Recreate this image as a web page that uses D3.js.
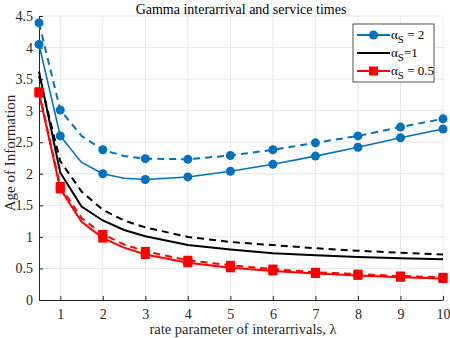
<!DOCTYPE html>
<html lang="en">
<head>
<meta charset="UTF-8">
<title>Gamma interarrival and service times</title>
<style>
  body { margin: 0; background: #fff; }
  svg { font-family: "Liberation Serif", "Times New Roman", serif; }
  .grid line { stroke: #e6e6e6; stroke-width: 1; }
  .axis path, .axis line { stroke: #262626; }
  .axis text { fill: #262626; }
</style>
</head>
<body>
<script src="https://d3js.org/d3.v7.min.js"></script>
<svg id="svg"></svg>
<script>
// x values (rate parameter lambda)
var lambdas = [0.5, 1, 1.5, 2, 2.5, 3, 4, 5, 6, 7, 8, 9, 10];
var markerX = [0.5, 1, 2, 3, 4, 5, 6, 7, 8, 9, 10];

var blueSolid  = [4.05, 2.60, 2.18, 2.00, 1.93, 1.91, 1.95, 2.04, 2.15, 2.28, 2.42, 2.57, 2.71];
var blueDashed = [4.39, 3.01, 2.60, 2.38, 2.28, 2.24, 2.23, 2.29, 2.38, 2.49, 2.60, 2.74, 2.87];
var blackSolid = [3.62, 2.02, 1.48, 1.26, 1.11, 1.01, 0.87, 0.80, 0.74, 0.71, 0.68, 0.66, 0.645];
var blackDashed= [3.55, 2.20, 1.72, 1.43, 1.26, 1.15, 1.00, 0.92, 0.87, 0.82, 0.78, 0.75, 0.72];
var redSolid   = [3.28, 1.76, 1.24, 0.98, 0.83, 0.72, 0.59, 0.51, 0.46, 0.42, 0.39, 0.36, 0.34];
var redDashed  = [3.30, 1.80, 1.30, 1.04, 0.88, 0.77, 0.63, 0.55, 0.49, 0.44, 0.41, 0.38, 0.36];

var xTicks = [1, 2, 3, 4, 5, 6, 7, 8, 9, 10];
var yTicks = [0, 0.5, 1, 1.5, 2, 2.5, 3, 3.5, 4, 4.5];

var W = 450, H = 338;
var m = { left: 39, right: 7, top: 16, bottom: 38 };
var serif = "'Liberation Serif', 'Times New Roman', serif";

var svg = d3.select("#svg").attr("width", W).attr("height", H);

var x = d3.scaleLinear().domain([0.5, 10]).range([m.left, W - m.right]);
var y = d3.scaleLinear().domain([0, 4.5]).range([H - m.bottom, m.top]);

// grid
var grid = svg.append("g").attr("class", "grid");
grid.selectAll(".gx").data(xTicks).enter().append("line")
  .attr("x1", d => x(d)).attr("x2", d => x(d))
  .attr("y1", y(0)).attr("y2", y(4.5));
grid.selectAll(".gy").data(yTicks).enter().append("line")
  .attr("x1", x(0.5)).attr("x2", x(10))
  .attr("y1", d => y(d)).attr("y2", d => y(d));

// axes
svg.append("g").attr("class", "axis")
  .attr("transform", "translate(0," + y(0) + ")")
  .call(d3.axisBottom(x).tickValues(xTicks).tickSize(-4).tickSizeOuter(0).tickPadding(9))
  .attr("font-family", serif).attr("font-size", 14);
svg.append("g").attr("class", "axis")
  .attr("transform", "translate(" + x(0.5) + ",0)")
  .call(d3.axisLeft(y).tickValues(yTicks).tickSize(-4).tickSizeOuter(0).tickPadding(6)
        .tickFormat(d => String(d)))
  .attr("font-family", serif).attr("font-size", 14);

function series(vals) {
  return lambdas.map((l, i) => ({ x: l, y: vals[i] }));
}
function markers(vals) {
  return series(vals).filter(p => markerX.indexOf(p.x) >= 0);
}

var line = d3.line().x(d => x(d.x)).y(d => y(d.y));

var curves = [
  { v: blackDashed, c: "#000", w: 2, dash: "7,5", mk: null },
  { v: blackSolid, c: "#000", w: 2, dash: null, mk: null },
  { v: redDashed, c: "#ff0000", w: 2, dash: "7,5", mk: "square" },
  { v: redSolid, c: "#ff0000", w: 2, dash: null, mk: "square" },
  { v: blueDashed, c: "#0072bd", w: 2, dash: "7,5", mk: "circle" },
  { v: blueSolid, c: "#0072bd", w: 1.6, dash: null, mk: "circle" }
];

var plot = svg.append("g");
curves.forEach(function (s) {
  plot.append("path")
    .datum(series(s.v))
    .attr("d", line)
    .attr("fill", "none")
    .attr("stroke", s.c)
    .attr("stroke-width", s.w)
    .attr("stroke-dasharray", s.dash);
  if (s.mk === "circle") {
    plot.selectAll(null).data(markers(s.v)).enter().append("circle")
      .attr("cx", d => x(d.x)).attr("cy", d => y(d.y)).attr("r", 4.5)
      .attr("fill", s.c);
  } else if (s.mk === "square") {
    plot.selectAll(null).data(markers(s.v)).enter().append("rect")
      .attr("x", d => x(d.x) - 4.5).attr("y", d => y(d.y) - 4.5)
      .attr("width", 9).attr("height", 9)
      .attr("fill", s.c);
  }
});

// title and labels
svg.append("text").attr("x", 241).attr("y", 14).attr("text-anchor", "middle")
  .attr("font-size", 14).attr("fill", "#000").text("Gamma interarrival and service times");
svg.append("text").attr("x", 243).attr("y", 334).attr("text-anchor", "middle")
  .attr("font-size", 14.5).attr("fill", "#262626").text("rate parameter of interarrivals, λ");
svg.append("text").attr("transform", "translate(15,153) rotate(-90)")
  .attr("text-anchor", "middle").attr("font-size", 15).attr("fill", "#262626")
  .text("Age of Information");

// legend
var legendItems = [
  { lab: " = 2", c: "#0072bd", mk: "circle" },
  { lab: "=1", c: "#000", mk: null },
  { lab: " = 0.5", c: "#ff0000", mk: "square" }
];
var lg = svg.append("g").attr("transform", "translate(353,24)");
lg.append("rect").attr("width", 81).attr("height", 58)
  .attr("fill", "#fff").attr("stroke", "#262626").attr("stroke-width", 0.8);
legendItems.forEach(function (it, i) {
  var cy = 11 + i * 18;
  lg.append("line").attr("x1", 4).attr("x2", 37).attr("y1", cy).attr("y2", cy)
    .attr("stroke", it.c).attr("stroke-width", 2);
  if (it.mk === "circle") lg.append("circle").attr("cx", 20.5).attr("cy", cy).attr("r", 4.5).attr("fill", it.c);
  if (it.mk === "square") lg.append("rect").attr("x", 16).attr("y", cy - 4.5).attr("width", 9).attr("height", 9).attr("fill", it.c);
  var t = lg.append("text").attr("x", 38).attr("y", cy + 4).attr("font-size", 13).attr("fill", "#000");
  t.append("tspan").text("α");
  t.append("tspan").attr("font-size", 11).attr("dy", 4).text("S");
  t.append("tspan").attr("dy", -4).text(it.lab);
});
</script>
</body>
</html>
